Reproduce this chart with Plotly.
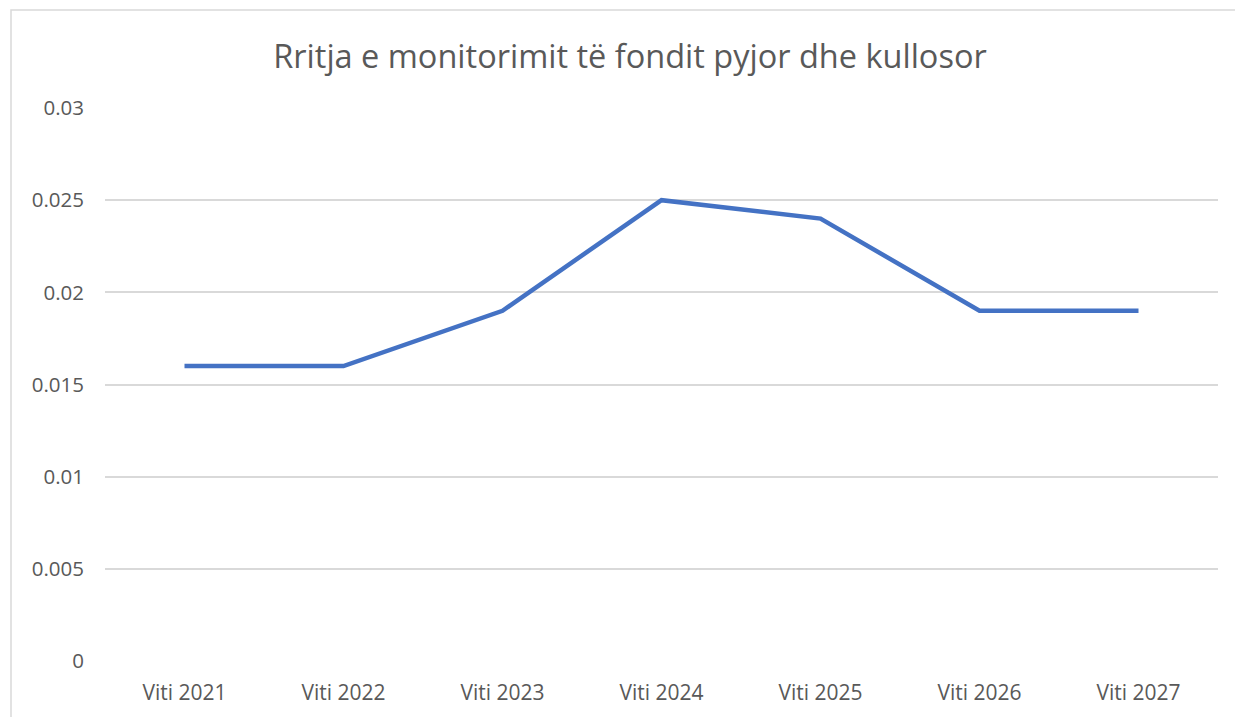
import plotly.graph_objects as go

categories = ["Viti 2021", "Viti 2022", "Viti 2023", "Viti 2024", "Viti 2025", "Viti 2026", "Viti 2027"]
values = [0.016, 0.016, 0.019, 0.025, 0.024, 0.019, 0.019]
y_ticks = [0, 0.005, 0.01, 0.015, 0.02, 0.025, 0.03]
y_tick_labels = ["0", "0.005", "0.01", "0.015", "0.02", "0.025", "0.03"]
title_text = "Rritja e monitorimit të fondit pyjor dhe kullosor"

W, H = 1235, 717
L, R, T, B = 105, 17, 108, 56
pw, ph = W - L - R, H - T - B

fig = go.Figure()
fig.add_trace(go.Scatter(
    x=list(range(len(categories))), y=values, mode="lines",
    line=dict(color="#4472C4", width=4.5), hoverinfo="skip"))

font = "Open Sans, Liberation Sans, sans-serif"
fig.update_layout(
    width=W, height=H,
    margin=dict(l=L, r=R, t=T, b=B),
    paper_bgcolor="white", plot_bgcolor="white",
    showlegend=False,
    title=dict(text=title_text, x=630 / W, xanchor="center", y=1 - 57 / H, yanchor="middle",
               font=dict(family=font, size=32.5, color="#595959")),
    xaxis=dict(range=[-0.5, len(categories) - 0.5], tickmode="array",
               tickvals=list(range(len(categories))), ticktext=categories,
               showgrid=False, zeroline=False, showline=False, ticks="",
               tickfont=dict(family=font, size=21, color="#595959"), ticklabelstandoff=17),
    yaxis=dict(range=[0, 0.03], tickmode="array", tickvals=y_ticks, ticktext=y_tick_labels,
               showgrid=True, gridcolor="#d9d9d9", gridwidth=1.5, zeroline=False,
               showline=False, ticks="", ticklabelstandoff=20,
               tickfont=dict(family=font, size=20.5, color="#595959")),
    shapes=[dict(type="rect", xref="paper", yref="paper",
                 x0=(11 - L) / pw, x1=(1245 - L) / pw,
                 y0=(H - T - 730) / ph, y1=1 + (T - 10) / ph,
                 line=dict(color="#d9d9d9", width=1.5), fillcolor="rgba(0,0,0,0)", layer="below")],
)
fig.write_html("out.html", config={"displayModeBar": False},
               post_script="document.body.style.margin='0';document.body.style.overflow='hidden';")
